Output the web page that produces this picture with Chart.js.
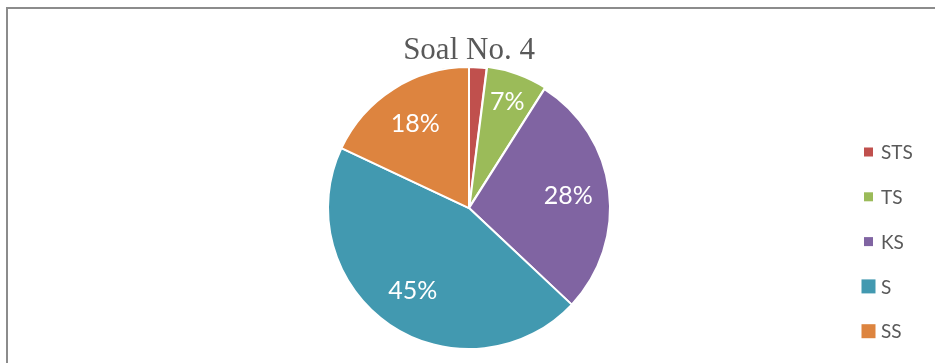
<!DOCTYPE html>
<html lang="id">
<head>
<meta charset="utf-8">
<title>Soal No. 4</title>
<script src="https://cdn.jsdelivr.net/npm/chart.js@4.4.1/dist/chart.umd.min.js"></script>
<style>
  html, body { margin: 0; padding: 0; background: #ffffff; }
  #wrap { position: relative; width: 935px; height: 363px; overflow: hidden; }
  #frame {
    position: absolute; left: 6px; top: 7px;
    width: 1000px; height: 1000px;
    border-left: 2px solid #8c8c8c; border-top: 2px solid #8c8c8c;
  }
  #chart { position: absolute; left: 0; top: 0; }
</style>
</head>
<body>
<div id="wrap">
  <div id="frame"></div>
  <canvas id="chart" width="935" height="363"></canvas>
</div>
<script>
/* ── DATA ───────────────────────────────────────────────────────────────── */
const CATEGORIES = ["STS", "TS", "KS", "S", "SS"];
const PERCENTS = [2, 7, 28, 45, 18];
const SLICE_COLORS = ["#c0504d", "#9bbb59", "#8064a2", "#4299b0", "#dd843f"];

/* ── STYLE ──────────────────────────────────────────────────────────────── */
const INK = "#595959";
const LABEL_FONT = "Lato, 'Open Sans', sans-serif";

/* ── SLICE LABELS ───────────────────────────────────────────────────────────
   White percentage text inside each slice, set on the slice's mid-angle.
   Thin slices get pushed further out so the text still fits.
   ─────────────────────────────────────────────────────────────────────── */
const sliceLabels = {
  id: "sliceLabels",
  afterDatasetsDraw(chart) {
    const { ctx } = chart;
    const meta = chart.getDatasetMeta(0);
    const values = chart.data.datasets[0].data;

    ctx.save();
    ctx.font = `400 25px ${LABEL_FONT}`;
    ctx.fillStyle = "#ffffff";
    ctx.textAlign = "center";
    ctx.textBaseline = "middle";

    meta.data.forEach(function (arc, i) {
      const v = values[i];
      if (v < 5) return;
      const { x, y, startAngle, endAngle, outerRadius } = arc.getProps(
        ["x", "y", "startAngle", "endAngle", "outerRadius"], true);
      const mid = (startAngle + endAngle) / 2;
      const r = outerRadius * (v < 10 ? 0.8 : 0.71);
      ctx.fillText(v + "%", x + Math.cos(mid) * r, y + Math.sin(mid) * r);
    });
    ctx.restore();
  },
};

/* ── SIDE LEGEND ────────────────────────────────────────────────────────────
   Square swatch + category name, stacked down the right-hand side.
   ─────────────────────────────────────────────────────────────────────── */
const sideLegend = {
  id: "sideLegend",
  afterDraw(chart) {
    const { ctx } = chart;
    const boxSizes = [9, 9, 9, 14, 14];
    const boxCentreX = 868.5;
    const textX = 881;
    const firstRowY = 152;
    const rowGap = 44.8;

    ctx.save();
    ctx.font = `400 19px ${LABEL_FONT}`;
    ctx.textAlign = "left";
    ctx.textBaseline = "middle";

    CATEGORIES.forEach(function (name, i) {
      const cy = firstRowY + i * rowGap;
      const s = boxSizes[i];
      ctx.fillStyle = SLICE_COLORS[i];
      ctx.fillRect(boxCentreX - s / 2, cy - s / 2, s, s);
      ctx.fillStyle = INK;
      ctx.fillText(name, textX, cy + 1);
    });
    ctx.restore();
  },
};

/* ── CHART ──────────────────────────────────────────────────────────────── */
new Chart(document.getElementById("chart"), {
  type: "pie",
  data: {
    labels: CATEGORIES,
    datasets: [{
      data: PERCENTS,
      backgroundColor: SLICE_COLORS,
      borderColor: "#ffffff",
      borderWidth: 2,
      offset: [0, 4, 0, 0, 0],
      radius: 141,
    }],
  },
  options: {
    responsive: false,
    animation: false,
    layout: { padding: { left: 103, right: 100, top: 0, bottom: 16 } },
    plugins: {
      legend: { display: false },
      tooltip: { enabled: false },
      title: {
        display: true,
        fullSize: false,
        text: "Soal No. 4",
        color: INK,
        font: { family: "'Liberation Serif', 'Times New Roman', serif", size: 31, weight: "normal" },
        padding: { top: 32, bottom: 0 },
      },
    },
  },
  plugins: [sliceLabels, sideLegend],
});
</script>
</body>
</html>
